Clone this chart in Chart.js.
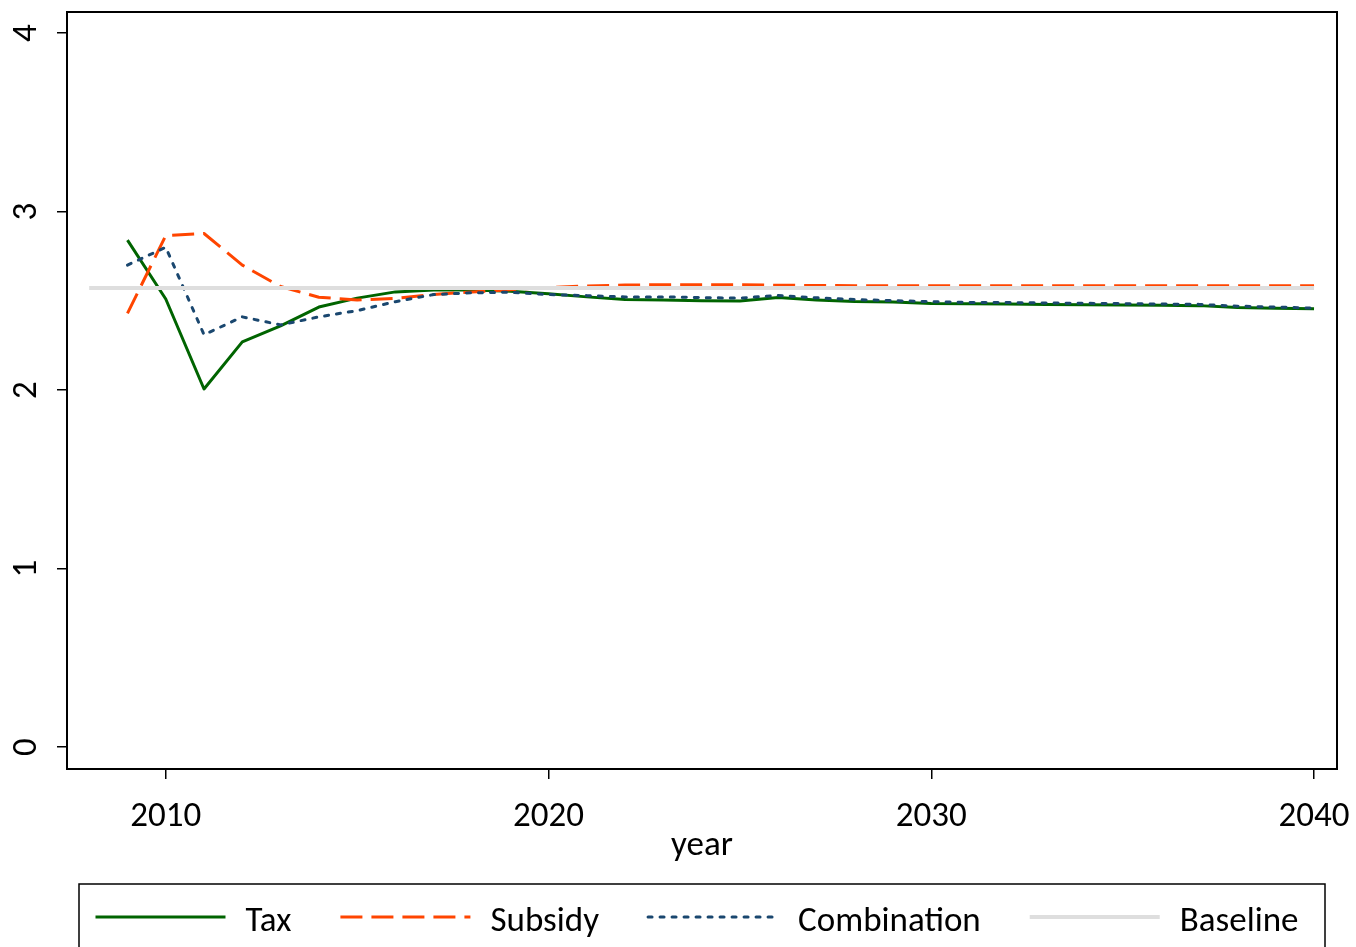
<!DOCTYPE html>
<html>
<head>
<meta charset="utf-8">
<script src="https://cdn.jsdelivr.net/npm/chart.js@4.4.0/dist/chart.umd.min.js"></script>
<style>
  html, body { margin: 0; padding: 0; background: #fff; }
  canvas { display: block; }
</style>
</head>
<body>
<canvas id="chart" width="1356" height="947"></canvas>
<script>
const years = [2009, 2010, 2011, 2012, 2013, 2014, 2015, 2016, 2017, 2018, 2019, 2020,
  2021, 2022, 2023, 2024, 2025, 2026, 2027, 2028, 2029, 2030,
  2031, 2032, 2033, 2034, 2035, 2036, 2037, 2038, 2039, 2040];

const tax = [2.84, 2.51, 2.006, 2.27, 2.36, 2.465, 2.515, 2.55, 2.56, 2.56, 2.553, 2.54,
  2.522, 2.507, 2.504, 2.50, 2.499, 2.518, 2.505, 2.496, 2.493, 2.485,
  2.483, 2.482, 2.48, 2.478, 2.476, 2.475, 2.473, 2.463, 2.458, 2.455];

const subsidy = [2.43, 2.865, 2.877, 2.70, 2.58, 2.52, 2.505, 2.513, 2.535, 2.55, 2.562, 2.575,
  2.583, 2.588, 2.59, 2.59, 2.59, 2.587, 2.586, 2.585, 2.585, 2.584,
  2.584, 2.584, 2.584, 2.584, 2.584, 2.584, 2.584, 2.584, 2.584, 2.584];

const combination = [2.70, 2.80, 2.31, 2.41, 2.365, 2.41, 2.445, 2.495, 2.535, 2.545, 2.548, 2.535,
  2.529, 2.522, 2.522, 2.518, 2.515, 2.53, 2.517, 2.507, 2.501, 2.495,
  2.491, 2.49, 2.488, 2.486, 2.484, 2.482, 2.48, 2.47, 2.465, 2.459];

const baselineYears = [2008, 2040];
const baseline = [2.572, 2.572];

const xTicks = [2010, 2020, 2030, 2040];
const yTicks = [0, 1, 2, 3, 4];
const seriesNames = ['Tax', 'Subsidy', 'Combination', 'Baseline'];

const FONT = 'Carlito, Lato, sans-serif';
const FS = 35;

const pts = (xs, ys) => xs.map((x, i) => ({ x: x, y: ys[i] }));

// frame, rotated y labels and boxed legend (drawn by hand, Stata style)
const extras = {
  id: 'extras',
  afterDraw(chart) {
    const { ctx, chartArea: a } = chart;
    const yScale = chart.scales.y;
    ctx.save();
    ctx.strokeStyle = '#000';
    ctx.lineWidth = 2;
    ctx.strokeRect(a.left, a.top, a.right - a.left, a.bottom - a.top);

    ctx.fillStyle = '#000';
    ctx.font = `${FS}px ${FONT}`;
    ctx.textAlign = 'center';
    ctx.textBaseline = 'middle';
    yScale.ticks.forEach((t) => {
      const py = yScale.getPixelForValue(t.value);
      ctx.save();
      ctx.translate(27, py);
      ctx.rotate(-Math.PI / 2);
      ctx.fillText(String(t.value), 0, 0);
      ctx.restore();
    });

    // legend box
    ctx.lineWidth = 1.5;
    ctx.strokeStyle = '#000';
    ctx.strokeRect(79, 884, 1246, 120);

    const sampleW = 130, gapText = 20, gapItem = 49;
    const widths = seriesNames.map((n) => ctx.measureText(n).width);
    const total = 4 * (sampleW + gapText) + 3 * gapItem + widths.reduce((s, w) => s + w, 0);
    let x = 697 - total / 2;
    const ly = 917;
    chart.data.datasets.forEach((ds, i) => {
      ctx.save();
      ctx.strokeStyle = ds.borderColor;
      ctx.lineWidth = ds.borderWidth;
      ctx.lineCap = ds.borderCapStyle || 'butt';
      ctx.setLineDash(ds.borderDash || []);
      ctx.beginPath();
      ctx.moveTo(x, ly);
      ctx.lineTo(x + sampleW, ly);
      ctx.stroke();
      ctx.restore();
      ctx.textAlign = 'left';
      ctx.fillText(seriesNames[i], x + sampleW + gapText, ly + 5);
      x += sampleW + gapText + widths[i] + gapItem;
    });
    ctx.restore();
  }
};

new Chart(document.getElementById('chart'), {
  type: 'line',
  data: {
    datasets: [
      {
        label: seriesNames[0],
        data: pts(years, tax),
        borderColor: '#006400',
        borderWidth: 3,
        order: 4
      },
      {
        label: seriesNames[1],
        data: pts(years, subsidy),
        borderColor: '#ff4500',
        borderWidth: 3,
        borderDash: [22, 9],
        order: 3
      },
      {
        label: seriesNames[2],
        data: pts(years, combination),
        borderColor: '#1a476f',
        borderWidth: 3,
        borderDash: [4, 8],
        borderCapStyle: 'round',
        order: 2
      },
      {
        label: seriesNames[3],
        data: pts(baselineYears, baseline),
        borderColor: '#dedede',
        borderWidth: 4,
        order: 1
      }
    ]
  },
  options: {
    responsive: false,
    animation: false,
    elements: {
      point: { radius: 0 },
      line: { tension: 0, fill: false, borderJoinStyle: 'round' }
    },
    layout: { padding: { left: 0, top: 12, right: 19, bottom: 78 } },
    plugins: {
      legend: { display: false },
      tooltip: { enabled: false }
    },
    scales: {
      x: {
        type: 'linear',
        min: 2007.42,
        max: 2040.6,
        afterBuildTicks: (s) => { s.ticks = xTicks.map((v) => ({ value: v })); },
        afterFit: (s) => { s.height = 100; s.paddingLeft = 0; s.paddingRight = 0; },
        border: { display: false },
        grid: { drawOnChartArea: false, drawTicks: true, tickLength: 10, color: '#000', lineWidth: 1.5 },
        ticks: {
          color: '#000',
          font: { family: FONT, size: FS },
          padding: 17,
          maxRotation: 0,
          callback: (v) => String(v)
        },
        title: {
          display: true,
          text: 'year',
          color: '#000',
          font: { family: FONT, size: FS },
          padding: { top: 0, bottom: 2 }
        }
      },
      y: {
        min: -0.123,
        max: 4.118,
        afterBuildTicks: (s) => { s.ticks = yTicks.map((v) => ({ value: v })); },
        afterFit: (s) => { s.width = 67; },
        border: { display: false },
        grid: { drawOnChartArea: false, drawTicks: true, tickLength: 10, color: '#000', lineWidth: 1.5 },
        ticks: { display: false }
      }
    }
  },
  plugins: [extras]
});
</script>
</body>
</html>
